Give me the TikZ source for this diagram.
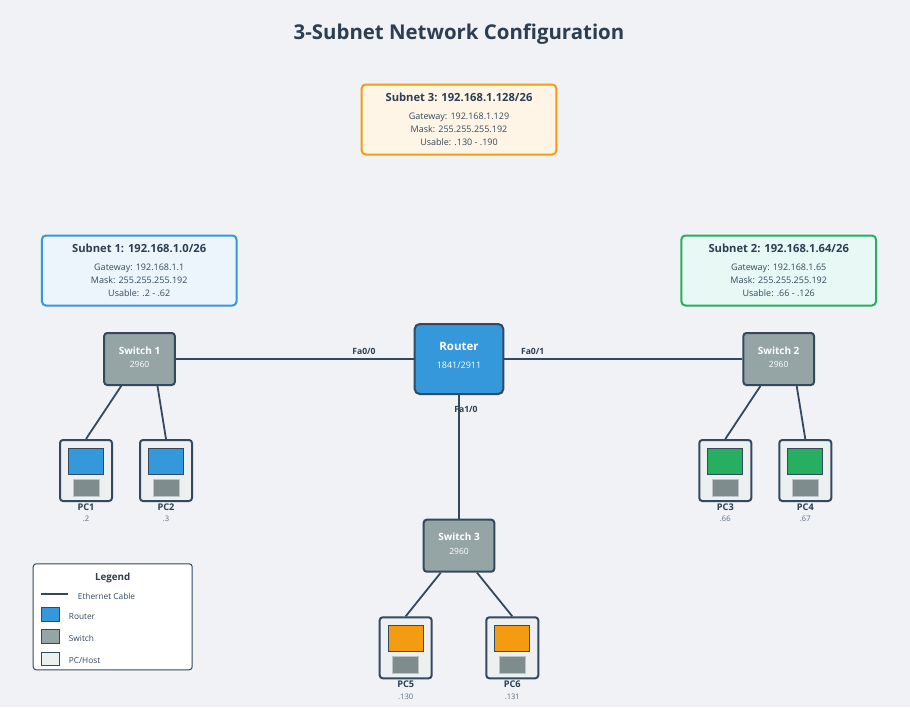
\documentclass[tikz,border=0pt]{standalone}
\usepackage{fontspec}
\setmainfont{Open Sans}
\definecolor{pagebg}{HTML}{F0F2F5}
\definecolor{inkdark}{HTML}{2C3E50}
\definecolor{inkline}{HTML}{34495E}
\definecolor{routerblue}{HTML}{3498DB}
\definecolor{switchgrey}{HTML}{95A5A6}
\definecolor{hostfill}{HTML}{ECF0F1}
\definecolor{basegrey}{HTML}{7F8C8D}
\definecolor{baseedge}{HTML}{BDC3C7}
\definecolor{pcgreen}{HTML}{27AE60}
\definecolor{pcorange}{HTML}{F39C12}
\definecolor{tintblue}{HTML}{EBF5FB}
\definecolor{tintgreen}{HTML}{E8F8F5}
\definecolor{tintorange}{HTML}{FEF5E7}
\newcommand{\fs}[1]{\fontsize{#1}{#1}\selectfont}
\tikzset{cable/.style={line width=1.8pt,inkline}}
\tikzset{switchbox/.style={draw=inkline,line width=2pt,fill=switchgrey,rounded corners=3pt,minimum width=70.6pt,minimum height=52pt,text=white,align=center,inner sep=0pt}}
\tikzset{routerbox/.style={switchbox,fill=routerblue,minimum width=88.6pt,minimum height=70pt,rounded corners=5pt}}
\tikzset{pcbox/.style={draw=inkline,line width=2pt,fill=hostfill,rounded corners=3pt,minimum width=52pt,minimum height=61pt,inner sep=0pt}}
\tikzset{pcscreen/.style={draw=inkline,line width=1pt,minimum width=35pt,minimum height=26pt,inner sep=0pt}}
\tikzset{pcbase/.style={draw=baseedge,line width=1pt,fill=basegrey,minimum width=26pt,minimum height=17pt,inner sep=0pt}}
\tikzset{pcname/.style={text=inkdark,font=\fs{9.2}\bfseries,inner sep=0pt}}
\tikzset{pcip/.style={text=inkline!80,font=\fs{7.6},inner sep=0pt}}
\tikzset{portlabel/.style={text=inkdark,font=\fs{8.6}\bfseries,inner sep=0pt}}
\tikzset{subnetbox/.style={line width=2pt,rounded corners=4pt,minimum width=194.6pt,minimum height=70pt,align=center,text=inkline,inner sep=0pt,font=\fs{9}}}
\tikzset{legendkey/.style={draw=inkline,line width=1pt,minimum width=17.5pt,minimum height=13.5pt,inner sep=0pt}}
\tikzset{legendtext/.style={text=inkline,font=\fs{8.3},anchor=west,inner sep=0pt}}
\begin{document}
\begin{tikzpicture}[x=1pt,y=-1pt]
    \fill[pagebg] (0,0) rectangle (910,707);
    \useasboundingbox (0,0) rectangle (910,707);
    \node[text=inkdark,font=\fs{20.4}\bfseries,inner sep=0pt] (title) at (459,34) {3-Subnet Network Configuration};

    % subnet boxes
    \node[subnetbox,draw=routerblue,fill=tintblue] (subnet1) at (139.2,270.5) {{\fs{11.2}\bfseries\color{inkdark}Subnet 1: 192.168.1.0/26}\\[9pt]Gateway: 192.168.1.1\\[4pt]Mask: 255.255.255.192\\[4pt]Usable: .2 - .62\rule[-1.2pt]{0pt}{0pt}};
    \node[subnetbox,draw=pcgreen,fill=tintgreen] (subnet2) at (778.7,270.5) {{\fs{11.2}\bfseries\color{inkdark}Subnet 2: 192.168.1.64/26}\\[9pt]Gateway: 192.168.1.65\\[4pt]Mask: 255.255.255.192\\[4pt]Usable: .66 - .126\rule[-1.2pt]{0pt}{0pt}};
    \node[subnetbox,draw=pcorange,fill=tintorange] (subnet3) at (459,119.5) {{\fs{11.2}\bfseries\color{inkdark}Subnet 3: 192.168.1.128/26}\\[9pt]Gateway: 192.168.1.129\\[4pt]Mask: 255.255.255.192\\[4pt]Usable: .130 - .190\rule[-1.2pt]{0pt}{0pt}};

    % router and switches
    \node[routerbox] (router) at (459,359) {{\fs{11.5}\bfseries Router}\\[6.5pt]{\fs{9}1841/2911}\rule[-7pt]{0pt}{0pt}};
    \node[switchbox] (switch1) at (139.5,359) {{\fs{10}\bfseries Switch 1}\\[1.5pt]{\fs{8.5}2960}\rule[-4pt]{0pt}{0pt}};
    \node[switchbox] (switch2) at (778.7,359) {{\fs{10}\bfseries Switch 2}\\[1.5pt]{\fs{8.5}2960}\rule[-4pt]{0pt}{0pt}};
    \node[switchbox] (switch3) at (459,545.7) {{\fs{10}\bfseries Switch 3}\\[1.5pt]{\fs{8.5}2960}\rule[-4pt]{0pt}{0pt}};

    % hosts
    \node[pcbox] (pc1) at (86,470.5) {};
    \node[pcscreen,fill=routerblue] (pc1screen) at (86,461.5) {};
    \node[pcbase] (pc1base) at (86,487.8) {};
    \node[pcname] (pc1name) at (86,507) {PC1};
    \node[pcip] (pc1ip) at (86,519) {.2};

    \node[pcbox] (pc2) at (166,470.5) {};
    \node[pcscreen,fill=routerblue] (pc2screen) at (166,461.5) {};
    \node[pcbase] (pc2base) at (166,487.8) {};
    \node[pcname] (pc2name) at (166,507) {PC2};
    \node[pcip] (pc2ip) at (166,519) {.3};

    \node[pcbox] (pc3) at (725.3,470.5) {};
    \node[pcscreen,fill=pcgreen] (pc3screen) at (725.3,461.5) {};
    \node[pcbase] (pc3base) at (725.3,487.8) {};
    \node[pcname] (pc3name) at (725.3,507) {PC3};
    \node[pcip] (pc3ip) at (725.3,519) {.66};

    \node[pcbox] (pc4) at (805.3,470.5) {};
    \node[pcscreen,fill=pcgreen] (pc4screen) at (805.3,461.5) {};
    \node[pcbase] (pc4base) at (805.3,487.8) {};
    \node[pcname] (pc4name) at (805.3,507) {PC4};
    \node[pcip] (pc4ip) at (805.3,519) {.67};

    \node[pcbox] (pc5) at (405.7,647.8) {};
    \node[pcscreen,fill=pcorange] (pc5screen) at (405.7,638.8) {};
    \node[pcbase] (pc5base) at (405.7,665.1) {};
    \node[pcname] (pc5name) at (405.7,684.3) {PC5};
    \node[pcip] (pc5ip) at (405.7,696.3) {.130};

    \node[pcbox] (pc6) at (512.3,647.8) {};
    \node[pcscreen,fill=pcorange] (pc6screen) at (512.3,638.8) {};
    \node[pcbase] (pc6base) at (512.3,665.1) {};
    \node[pcname] (pc6name) at (512.3,684.3) {PC6};
    \node[pcip] (pc6ip) at (512.3,696.3) {.131};

    % cables
    \draw[cable] (switch1) -- (router);
    \draw[cable] (router) -- (switch2);
    \draw[cable] (router) -- (switch3);
    \draw[cable] ([xshift=-18.3pt]switch1.south) -- (pc1.north);
    \draw[cable] ([xshift=18pt]switch1.south) -- (pc2.north);
    \draw[cable] ([xshift=-18.3pt]switch2.south) -- (pc3.north);
    \draw[cable] ([xshift=18pt]switch2.south) -- (pc4.north);
    \draw[cable] ([xshift=-18.3pt]switch3.south) -- (pc5.north);
    \draw[cable] ([xshift=18pt]switch3.south) -- (pc6.north);

    % port labels
    \node[portlabel] (port00) at (364,351) {Fa0/0};
    \node[portlabel] (port01) at (532.7,351) {Fa0/1};
    \node[portlabel] (port10) at (466,409) {Fa1/0};

    % legend
    \node[draw=inkline,line width=1pt,fill=white,rounded corners=3pt,minimum width=159pt,minimum height=106pt,inner sep=0pt] (legend) at (112.7,616.8) {};
    \node[text=inkdark,font=\fs{9.8}\bfseries,inner sep=0pt] (legendtitle) at (112.7,578.3) {Legend};
    \coordinate (cablea) at (41.3,594.3);
    \coordinate (cableb) at (68.3,594.3);
    \draw[cable] (cablea) -- (cableb);
    \node[legendtext] (legendcable) at (77.7,596.3) {Ethernet Cable};
    \node[legendkey,fill=routerblue] (keyrouter) at (50.7,614.5) {};
    \node[legendtext] (legendrouter) at (68.7,616.5) {Router};
    \node[legendkey,fill=switchgrey] (keyswitch) at (50.7,636.7) {};
    \node[legendtext] (legendswitch) at (68.7,638.5) {Switch};
    \node[legendkey,fill=hostfill] (keypc) at (50.7,658.8) {};
    \node[legendtext] (legendpc) at (68.7,660.8) {PC/Host};
\end{tikzpicture}
\end{document}
